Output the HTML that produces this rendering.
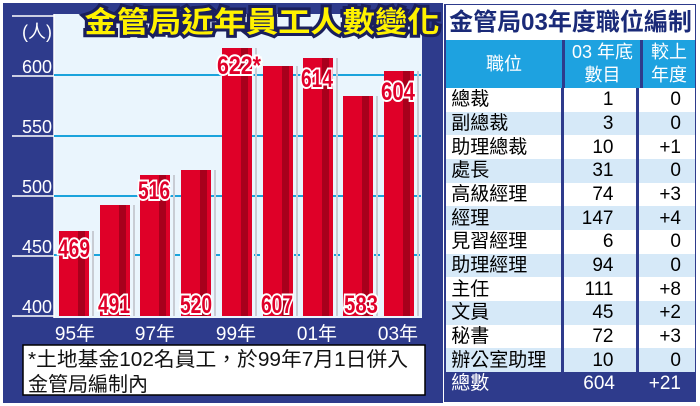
<!DOCTYPE html>
<html><head><meta charset="utf-8"><style>
body{margin:0;width:700px;height:406px;background:#fff;overflow:hidden;font-family:"Liberation Sans","Noto Sans CJK TC",sans-serif}
svg{position:absolute;left:0;top:0}
.tb{position:absolute;left:444px;top:4px;width:252px;height:398px;background:#2e3b8c}
table{border-collapse:collapse;position:absolute;left:2px;top:0;width:249px;font-size:19px}
td{padding:0;height:23.66px;line-height:23px}
td.n{text-align:right;padding-right:22px;border-left:3px solid #2e3b8c;border-right:3px solid #2e3b8c}
td.d{text-align:right;padding-right:14px}
</style></head><body>
<svg width="700" height="406" xmlns="http://www.w3.org/2000/svg" font-family="Liberation Sans, Noto Sans CJK TC, sans-serif">
<rect x="3" y="3" width="440" height="400" fill="#2e3b8c"/>
<rect x="54" y="14" width="368" height="304" fill="#eaf5fd"/>
<line x1="54" y1="14" x2="54" y2="318" stroke="#fff" stroke-width="1.5"/>
<g stroke="#1ba3dc" stroke-width="2">
<line x1="54" y1="75" x2="421" y2="75"/><line x1="54" y1="136" x2="421" y2="136"/><line x1="54" y1="196" x2="421" y2="196"/><line x1="54" y1="255" x2="421" y2="255" stroke-dasharray="6 14"/>
</g>
<g stroke="#fff" stroke-width="1.5"><line x1="12" y1="16" x2="54" y2="16"/><line x1="12" y1="76" x2="54" y2="76"/><line x1="12" y1="136" x2="54" y2="136"/><line x1="12" y1="196" x2="54" y2="196"/><line x1="12" y1="256" x2="54" y2="256"/><line x1="12" y1="316" x2="54" y2="316"/></g>
<g fill="#fff" font-size="18" text-anchor="end"><text x="52" y="38">(人)</text><text x="52" y="73">600</text><text x="52" y="133">550</text><text x="52" y="193">500</text><text x="52" y="253">450</text><text x="52" y="313">400</text></g>
<g id="bars">
<rect x="59" y="231" width="30" height="85" fill="#df0028"/><rect x="78" y="231" width="7" height="85" fill="#a8001c"/><rect x="92" y="231" width="2" height="85" fill="#c8ccd4"/>
<rect x="100" y="205" width="30" height="111" fill="#df0028"/><rect x="119" y="205" width="7" height="111" fill="#a8001c"/><rect x="133" y="205" width="2" height="111" fill="#c8ccd4"/>
<rect x="140" y="175" width="30" height="141" fill="#df0028"/><rect x="159" y="175" width="7" height="141" fill="#a8001c"/><rect x="173" y="175" width="2" height="141" fill="#c8ccd4"/>
<rect x="181" y="170" width="30" height="146" fill="#df0028"/><rect x="200" y="170" width="7" height="146" fill="#a8001c"/><rect x="214" y="170" width="2" height="146" fill="#c8ccd4"/>
<rect x="222" y="48" width="30" height="268" fill="#df0028"/><rect x="241" y="48" width="7" height="268" fill="#a8001c"/><rect x="255" y="48" width="2" height="268" fill="#c8ccd4"/>
<rect x="263" y="66" width="30" height="250" fill="#df0028"/><rect x="282" y="66" width="7" height="250" fill="#a8001c"/><rect x="296" y="66" width="2" height="250" fill="#c8ccd4"/>
<rect x="303" y="58" width="30" height="258" fill="#df0028"/><rect x="322" y="58" width="7" height="258" fill="#a8001c"/><rect x="336" y="58" width="2" height="258" fill="#c8ccd4"/>
<rect x="343" y="96" width="30" height="220" fill="#df0028"/><rect x="362" y="96" width="7" height="220" fill="#a8001c"/><rect x="376" y="96" width="2" height="220" fill="#c8ccd4"/>
<rect x="384" y="71" width="30" height="245" fill="#df0028"/><rect x="403" y="71" width="7" height="245" fill="#a8001c"/><rect x="417" y="71" width="2" height="245" fill="#c8ccd4"/>
</g>
<g font-size="25" font-weight="bold" fill="#e0002a" stroke="#fff" stroke-width="4" paint-order="stroke" text-anchor="middle">
<text x="74" y="257" textLength="32" lengthAdjust="spacingAndGlyphs">469</text>
<text x="114" y="313" textLength="32" lengthAdjust="spacingAndGlyphs">491</text>
<text x="154" y="199" textLength="32" lengthAdjust="spacingAndGlyphs">516</text>
<text x="196" y="313" textLength="32" lengthAdjust="spacingAndGlyphs">520</text>
<text x="239" y="74" textLength="44" lengthAdjust="spacingAndGlyphs">622*</text>
<text x="277" y="313" textLength="32" lengthAdjust="spacingAndGlyphs">607</text>
<text x="317" y="87" textLength="32" lengthAdjust="spacingAndGlyphs">614</text>
<text x="361" y="313" textLength="34" lengthAdjust="spacingAndGlyphs">583</text>
<text x="398" y="100" textLength="34" lengthAdjust="spacingAndGlyphs">604</text>
</g>
<text x="262" y="32" font-size="29" font-weight="bold" fill="#fff200" stroke="#1a1f5c" stroke-width="6" paint-order="stroke" text-anchor="middle" textLength="355" lengthAdjust="spacingAndGlyphs">金管局近年員工人數變化</text>
<g fill="#fff" font-size="19" text-anchor="middle"><text x="75" y="340">95年</text><text x="155" y="340">97年</text><text x="236" y="340">99年</text><text x="317" y="340">01年</text><text x="398" y="340">03年</text></g>
<rect x="23" y="345" width="402" height="50" fill="#fff" stroke="#000" stroke-width="1.5"/>
<text x="28" y="366" font-size="20" fill="#111" textLength="380" lengthAdjust="spacingAndGlyphs">*土地基金102名員工，於99年7月1日併入</text>
<text x="28" y="391" font-size="20" fill="#111">金管局編制內</text>
</svg>
<div class="tb">
<div style="position:absolute;left:2px;top:1px;width:249px;height:35px;background:#fff;color:#1a2a78;font-weight:bold;font-size:24px;line-height:35px;text-align:center;white-space:nowrap">金管局03年度職位編制</div>
<table style="top:36px;font-size:18px">
<tr style="background:#1ea2e0;color:#fff;height:48px"><td style="text-align:center;width:116px;line-height:23px">職位</td><td style="text-align:center;width:75px;border-left:3px solid #2e3b8c;border-right:3px solid #2e3b8c;line-height:23px">03 年底<br>數目</td><td style="text-align:center;line-height:23px">較上<br>年度</td></tr>
</table>
<table style="top:84px">
<colgroup><col style="width:116px"><col style="width:75px"><col></colgroup>
<tr style="background:#fff"><td>&nbsp;總裁</td><td class="n">1</td><td class="d">0</td></tr>
<tr style="background:#d6e9f8"><td>&nbsp;副總裁</td><td class="n">3</td><td class="d">0</td></tr>
<tr style="background:#fff"><td>&nbsp;助理總裁</td><td class="n">10</td><td class="d">+1</td></tr>
<tr style="background:#d6e9f8"><td>&nbsp;處長</td><td class="n">31</td><td class="d">0</td></tr>
<tr style="background:#fff"><td>&nbsp;高級經理</td><td class="n">74</td><td class="d">+3</td></tr>
<tr style="background:#d6e9f8"><td>&nbsp;經理</td><td class="n">147</td><td class="d">+4</td></tr>
<tr style="background:#fff"><td>&nbsp;見習經理</td><td class="n">6</td><td class="d">0</td></tr>
<tr style="background:#d6e9f8"><td>&nbsp;助理經理</td><td class="n">94</td><td class="d">0</td></tr>
<tr style="background:#fff"><td>&nbsp;主任</td><td class="n">111</td><td class="d">+8</td></tr>
<tr style="background:#d6e9f8"><td>&nbsp;文員</td><td class="n">45</td><td class="d">+2</td></tr>
<tr style="background:#fff"><td>&nbsp;秘書</td><td class="n">72</td><td class="d">+3</td></tr>
<tr style="background:#d6e9f8"><td style="white-space:nowrap">&nbsp;辦公室助理</td><td class="n">10</td><td class="d">0</td></tr>
<tr style="color:#fff"><td>&nbsp;總數</td><td class="d" style="padding-right:22px">604</td><td class="d">+21</td></tr>
</table>
</div>
</body></html>
